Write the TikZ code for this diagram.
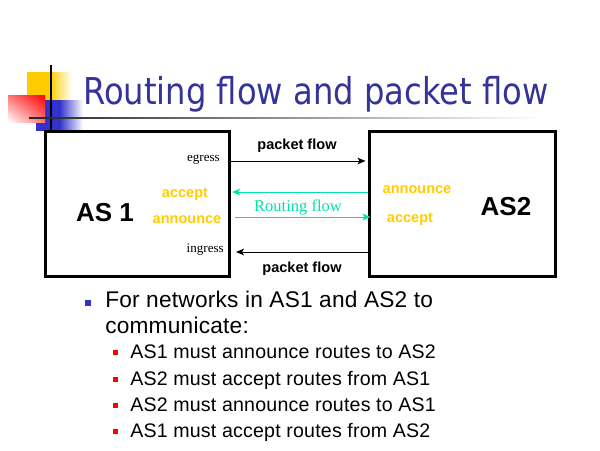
\documentclass[tikz,border=0pt]{standalone}
\usepackage{fontspec}
\setmainfont{Liberation Sans}
\newfontfamily\titlefont[FakeStretch=0.87]{DejaVu Sans}
\newfontfamily\bodyfont[LetterSpace=1]{Liberation Sans}
\newfontfamily\serfont{Liberation Serif}
\usetikzlibrary{arrows.meta,shadings}
\definecolor{titleblue}{RGB}{51,51,153}
\definecolor{logoyellow}{RGB}{255,204,0}
\definecolor{logoblue}{RGB}{51,51,204}
\definecolor{routegreen}{RGB}{0,228,168}
\definecolor{labyellow}{RGB}{255,204,0}
\begin{document}
\begin{tikzpicture}[x=0.75pt,y=-0.75pt,
  asbox/.style={draw, line width=2.25pt, inner sep=0pt, minimum height=108.75pt},
  aslab/.style={anchor=base, inner sep=0pt, font=\bfseries\fontsize{19.5}{22}\selectfont},
  pklab/.style={anchor=base, inner sep=0pt, font=\bfseries\fontsize{10.9}{13}\selectfont},
  yellab/.style={anchor=base, inner sep=0pt, text=labyellow, font=\bfseries\fontsize{10.9}{13}\selectfont},
  serlab/.style={anchor=base east, inner sep=0pt, font=\serfont\fontsize{9.8}{12}\selectfont},
  pkarrow/.style={line width=0.75pt, -{Stealth[length=6pt,width=5pt,inset=1.5pt]}},
  grarrow/.style={routegreen, line width=0.75pt, -{Stealth[length=6pt,width=5pt,inset=1.5pt]}},
  mainbul/.style={anchor=base west, inner sep=0pt, font=\bodyfont\fontsize{17}{20}\selectfont},
  subbul/.style={anchor=base west, inner sep=0pt, font=\bodyfont\fontsize{14.7}{17}\selectfont}]
\useasboundingbox (0,0) rectangle (600,450);
% logo
\fill[logoyellow] (27,72) rectangle (50,100);
\shade[left color=logoyellow, right color=white] (49.5,72) rectangle (72,100);
\fill[logoblue] (36,100) rectangle (60,131);
\shade[left color=logoblue, right color=white] (59.5,100) rectangle (83,131);
\shade[upper right=red, upper left=red!55, lower right=red!55, lower left=white] (8,95) rectangle (45,122);
\draw[line width=1.5pt] (51,65) -- (51,133);
\shade[left color=black!85, right color=white] (29,117.2) rectangle (540,118.8);
% title
\node[anchor=base west, inner sep=0pt, text=titleblue, font=\titlefont\fontsize{27.75}{32}\selectfont] (title) at (83,104) {Routing flow and packet flow};
% boxes
\node[asbox, minimum width=138pt] (as1) at (137,203.5) {};
\node[asbox, minimum width=139.5pt] (as2) at (462,203.5) {};
\node[aslab] (as1lab) at (105,221) {AS 1};
\node[aslab] (as2lab) at (506,215) {AS2};
% labels
\node[serlab] (egress) at (220,161) {egress};
\node[serlab] (ingress) at (224,252) {ingress};
\node[yellab] (acc1) at (185,197.5) {accept};
\node[yellab] (ann1) at (187,223) {announce};
\node[yellab] (ann2) at (417,193) {announce};
\node[yellab] (acc2) at (410,222.5) {accept};
\node[pklab] (pk1) at (297,149.5) {packet flow};
\node[pklab] (pk2) at (302,272) {packet flow};
\node[anchor=base, inner sep=0pt, text=routegreen, font=\serfont\fontsize{12.4}{15}\selectfont] (rf) at (298,211) {Routing flow};
% arrows
\draw[pkarrow, shorten >=1.5pt] (as1.east |- 0,161) -- (as2.west |- 0,161);
\draw[grarrow, shorten >=1.2pt] (as2.west |- 0,192) -- (as1.east |- 0,192);
\coordinate (g2s) at (235,217);
\draw[grarrow, shorten >=-2.25pt] (g2s) -- (as2.west |- g2s);
\coordinate (p2e) at (236,252);
\draw[pkarrow] (as2.west |- p2e) -- (p2e);
% bullets
\fill[logoblue] (85,300) rectangle (91,306);
\node[mainbul] (b1) at (105,307) {For networks in AS1 and AS2 to};
\node[mainbul] (b1b) at (105,333) {communicate:};
\foreach \yy/\tx [count=\i] in {358/AS1 must announce routes to AS2, 385/AS2 must accept routes from AS1, 411/AS2 must announce routes to AS1, 437/AS1 must accept routes from AS2}{
  \fill[red] (113,\yy-8) rectangle (118,\yy-3);
  \node[subbul] (s\i) at (130,\yy) {\tx};
}
\end{tikzpicture}
\end{document}
